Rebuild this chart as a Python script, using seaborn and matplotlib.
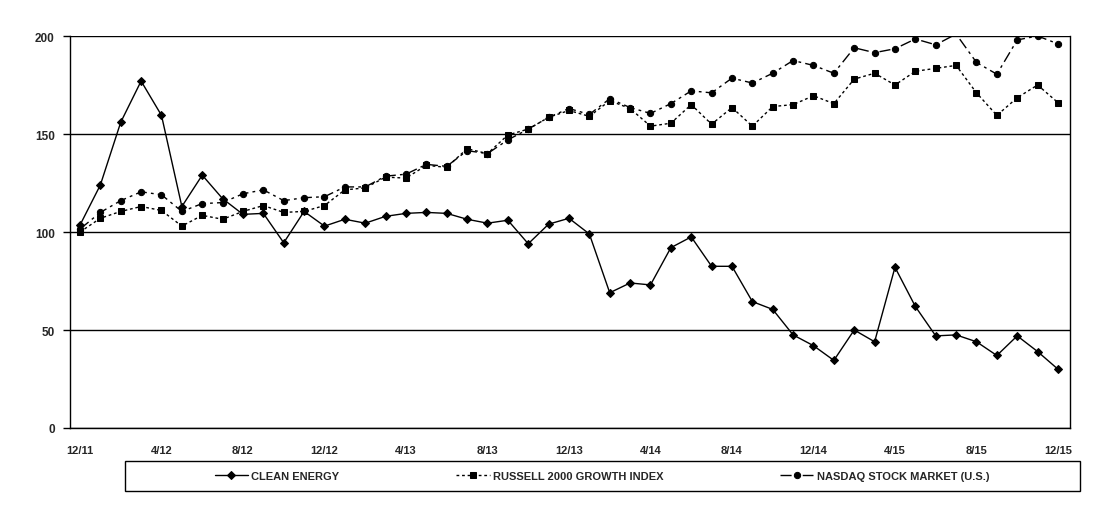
import matplotlib
matplotlib.use("Agg")
import matplotlib.pyplot as plt
from matplotlib.patches import Rectangle
import seaborn as sns
import numpy as np
import pandas as pd

tick_labels = ["12/11", "4/12", "8/12", "12/12", "4/13", "8/13", "12/13",
               "4/14", "8/14", "12/14", "4/15", "8/15", "12/15"]

clean_energy = [103.5, 124, 156, 177, 159.5, 113, 129, 117, 109, 109.5, 94.5, 110.5,
                103, 106.5, 104.5, 108, 109.5, 110, 109.5, 106.5, 104.5, 106, 94, 104,
                107, 99, 69, 74, 73, 92, 97.5, 82.5, 82.5, 64.5, 60.5, 47.5,
                42, 34.5, 50, 44, 82, 62, 47, 47.5, 44, 37, 47, 39, 30]
russell = [100, 107, 110.5, 113, 111, 103, 108.5, 106.5, 110.5, 113.5, 110, 110.5,
           113.5, 121.5, 122.5, 128, 127.5, 134, 133, 142.5, 140, 149.5, 152.5, 158.5,
           162, 159, 167, 163, 154, 155.5, 165, 155, 163.5, 154, 164, 165,
           169.5, 165.5, 178, 181, 175, 182, 183.5, 185, 171, 159.5, 168.5, 175, 166]
nasdaq = [101.5, 110, 116, 120.5, 119, 110.5, 114.5, 115, 119.5, 121.5, 116, 117.5,
          118, 123, 123, 128.5, 129.5, 134.5, 133.5, 141.5, 140, 147, 152.5, 158.5,
          163, 160, 168, 163.5, 160.5, 165.5, 172, 171, 178.5, 176, 181, 187.5,
          185, 181, 194, 191.5, 193.5, 198.5, 195.5, 201, 186.5, 180.5, 198, 200, 196]

names = ["CLEAN ENERGY", "RUSSELL 2000 GROWTH INDEX", "NASDAQ STOCK MARKET (U.S.)"]

sns.set_theme(style="white")
plt.rcParams['font.family'] = ['Liberation Sans', 'DejaVu Sans']

fig = plt.figure(figsize=(11.02, 5.10), dpi=100)
ax = fig.add_axes([70/1102, 1-429/510, 1000/1102, 392/510])

idx = np.arange(len(clean_energy))
styles = [
    dict(marker="D", markersize=10, linestyle="-"),
    dict(marker="s", markersize=8.5, linestyle=(0, (2, 2))),
    dict(marker="o", markersize=6.5, linestyle=(0, (8, 3, 2, 3))),
]
for name, vals, st in zip(names, [clean_energy, russell, nasdaq], styles):
    vals = np.asarray(vals, dtype=float)
    mev = [i for i in range(len(vals)) if vals[i] <= 200]
    sns.lineplot(x=idx, y=vals, ax=ax, color="black", lw=1, label=name,
                 markeredgecolor="black", markerfacecolor="black",
                 markevery=mev, clip_on=True, sort=False, **st)

ax.set_ylim(0, 200)
ax.set_xlim(-0.49, 48.59)
ax.set_yticks([0, 50, 100, 150, 200])
ax.set_xticks(np.arange(0, 49, 4))
ax.set_xticklabels(tick_labels)
ax.yaxis.grid(True, color="black", lw=1)
ax.set_axisbelow(True)
for s in ["left", "right", "bottom"]:
    ax.spines[s].set_visible(True)
    ax.spines[s].set_color("black")
    ax.spines[s].set_linewidth(1)
ax.spines["top"].set_visible(False)
ax.tick_params(axis="y", which="both", left=True, length=5, width=1, color="black",
               labelsize=8.5, pad=6)
ax.tick_params(axis="x", bottom=False, labelsize=8, pad=6)
for lab in ax.get_xticklabels() + ax.get_yticklabels():
    lab.set_fontweight("bold")
ax.set_xlabel("")
ax.set_ylabel("")

handles, labels = ax.get_legend_handles_labels()
ax.get_legend().remove()
for h in handles:
    h.set_markersize(4.5)

# legend frame
fig.patches.append(Rectangle((125/1102, 1-492/510), 955/1102, 30/510,
                             transform=fig.transFigure, fill=False,
                             edgecolor="black", lw=1))
leg = fig.legend(handles, labels, ncol=3, loc="center",
                 bbox_to_anchor=(602/1102, 1-477/510),
                 frameon=False, borderaxespad=0,
                 handlelength=3, handletextpad=0.3, columnspacing=10.5,
                 prop={"size": 8, "weight": "bold"})

fig.savefig("out.png", dpi=100, facecolor="white")
